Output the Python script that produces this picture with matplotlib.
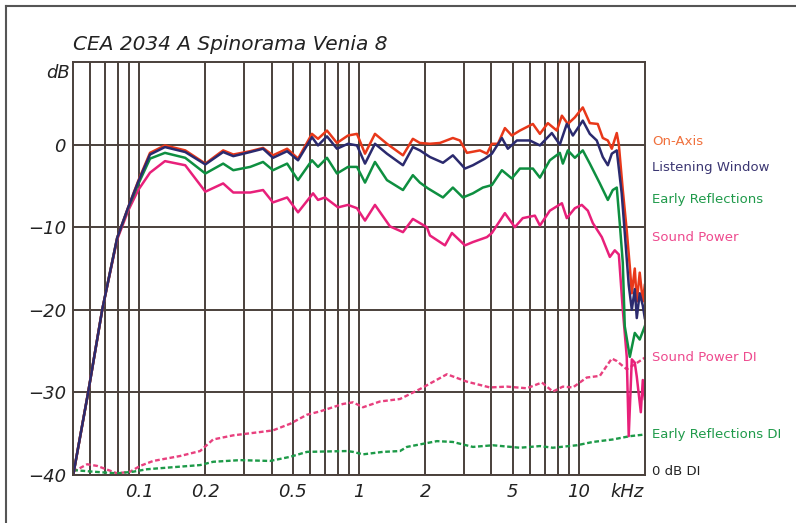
from matplotlib import pyplot as plt
from matplotlib.lines import Line2D

# ---- data (frequency in Hz, level in dB) ----
oa_f = [50.1, 58.6, 67.9, 79.4, 89.1, 99, 112, 131, 162, 200, 241, 268, 320, 366, 406, 471, 528, 611,
        651, 715, 794, 891, 979, 1065, 1182, 1340, 1585, 1758, 1892, 2102, 2334, 2673, 2877, 3097, 3548,
        3819, 4023, 4285, 4610, 4955, 5395, 6180, 6653, 7228, 7943, 8375, 8913, 9594, 10425, 11220,
        12190, 12853, 13552, 14125, 14880, 15205, 15849, 16520, 17061, 17418, 17970, 18350, 18923,
        19545, 19953]
oa_db = [-40, -30, -20, -11.3, -7.6, -4.4, -1.0, -0.1, -0.7, -2.3, -0.7, -1.2, -0.8, -0.4, -1.3, -0.5,
         -1.7, 1.3, 0.7, 1.7, 0.2, 1.1, 1.3, -1.1, 1.3, 0.1, -1.3, 0.7, 0.2, 0.1, 0.2, 0.8, 0.5, -1.0,
         -0.7, -1.1, 0.1, 0.1, 2.0, 1.1, 1.7, 2.5, 1.3, 2.6, 1.7, 3.5, 2.5, 3.3, 4.5, 2.6, 2.5, 0.8,
         0.5, -0.5, 1.4, 0.0, -5.5, -10.4, -14.8, -18, -15, -19, -15.5, -19, -17]

lw_f = [50.1, 58.6, 67.9, 79.4, 89.1, 99, 112, 131, 162, 200, 241, 268, 320, 366, 406, 471, 528, 611,
        651, 715, 794, 891, 979, 1065, 1182, 1340, 1585, 1758, 1892, 2102, 2410, 2673, 3034, 3297,
        3739, 4023, 4467, 4755, 5226, 5988, 6653, 7535, 8196, 8815, 9397, 10425, 11220, 12066, 12853,
        13552, 14125, 14880, 15668, 16181, 16866, 17418, 17970, 18350, 18923, 19545, 19953]
lw_db = [-40, -30, -20, -11.3, -7.6, -4.5, -1.2, -0.3, -0.9, -2.4, -0.9, -1.4, -0.9, -0.5, -1.6, -0.8,
         -1.9, 0.9, -0.1, 1.0, -0.5, 0.1, -0.1, -2.3, 0.1, -1.1, -2.5, -0.3, -0.7, -1.5, -2.2, -1.3,
         -2.9, -2.5, -1.7, -1.1, 0.8, -0.5, 0.5, 0.5, -0.1, 1.4, 0.0, 2.5, 1.1, 2.9, 1.3, 0.5, -1.5,
         -2.5, -1.1, -0.7, -5.9, -10.7, -17, -20, -17.5, -21, -18, -19.5, -21]

er_f = [50.1, 58.6, 67.9, 79.4, 89.1, 99, 112, 131, 162, 200, 241, 268, 320, 366, 406, 471, 528, 611,
        651, 715, 794, 891, 979, 1065, 1182, 1340, 1585, 1758, 1892, 2059, 2410, 2673, 2970, 3297,
        3660, 4023, 4467, 4955, 5395, 6180, 6653, 7380, 8196, 8459, 8913, 9594, 10425, 11220, 12462,
        13552, 14269, 14880, 15351, 15849, 16181, 17061, 17970, 18923, 19953]
er_db = [-40, -30, -20, -11.3, -7.7, -4.8, -1.7, -1.0, -1.6, -3.5, -2.3, -3.1, -2.7, -2.1, -3.1, -2.3,
         -4.3, -1.9, -2.7, -1.6, -3.5, -2.7, -2.7, -4.6, -2.1, -4.3, -5.5, -3.7, -4.6, -5.3, -6.4,
         -5.2, -6.4, -5.9, -5.2, -4.9, -3.1, -4.1, -2.9, -2.9, -4.0, -1.9, -1.0, -2.3, -0.7, -1.6,
         -0.7, -2.3, -4.7, -6.7, -5.5, -5.2, -9.5, -14.3, -22, -25.7, -22.8, -23.6, -22]

sp_f = [50.1, 58.6, 67.9, 79.4, 89.1, 99, 112, 131, 162, 200, 241, 268, 320, 366, 406, 471, 528, 618,
        651, 700, 803, 891, 979, 1065, 1182, 1383, 1585, 1758, 2036, 2102, 2461, 2647, 3034, 3297,
        3819, 4023, 4610, 5117, 5559, 6310, 6653, 7380, 8375, 8815, 9594, 10318, 10990, 11578, 12723,
        13836, 14572, 15205, 15849, 16520, 16866, 17418, 17970, 18350, 19143, 19545, 19953]
sp_db = [-40, -30, -20, -11.5, -8.0, -5.5, -3.4, -2.0, -2.5, -5.7, -4.7, -5.8, -5.8, -5.5, -7.0, -6.4,
         -8.2, -5.9, -6.7, -6.4, -7.6, -7.3, -7.7, -9.2, -7.3, -9.9, -10.6, -9.0, -10.0, -11.0, -12.2,
         -10.7, -12.2, -11.8, -11.2, -10.7, -8.3, -10.0, -8.9, -8.6, -9.8, -8.0, -7.1, -8.9, -7.7,
         -7.3, -8.0, -9.5, -11.2, -13.6, -12.8, -13.3, -20, -25.7, -35.3, -26, -26.4, -28.1, -32.4,
         -28.5, -30.8]

spdi_f = [50.1, 58, 64.4, 79.4, 91, 101, 115.8, 153.6, 189.3, 216.9, 267.6, 354.8, 406, 486, 580, 665,
          845, 939, 1043, 1246, 1536, 1892, 2512, 3097, 3940, 4710, 5802, 6793, 7616, 8459, 9397,
          10864, 12462, 14125, 14880, 16520, 17970, 19953]
spdi_db = [-39.6, -38.7, -38.9, -39.8, -39.6, -38.9, -38.3, -37.7, -37.1, -35.7, -35.2, -34.8, -34.6,
           -33.8, -32.7, -32.3, -31.4, -31.2, -31.8, -31.1, -30.8, -29.6, -27.8, -28.7, -29.4, -29.3,
           -29.5, -28.8, -29.9, -29.3, -29.4, -28.2, -28.0, -25.9, -26.2, -27.2, -26.6, -25.8]

erdi_f = [50.1, 61.8, 79.4, 93.9, 108.7, 189.3, 216.9, 287.8, 394, 486, 580, 881, 939, 1043, 1285,
          1536, 1652, 2262, 2673, 3297, 4064, 5395, 6653, 7616, 9795, 11578, 14269, 17061, 19953]
erdi_db = [-39.4, -39.6, -39.8, -39.6, -39.3, -38.8, -38.4, -38.2, -38.3, -37.8, -37.2, -37.1, -37.2,
           -37.5, -37.2, -37.1, -36.6, -35.9, -36.0, -36.6, -36.4, -36.7, -36.5, -36.7, -36.4, -36.0,
           -35.7, -35.3, -35.1]

major_f = [100, 200, 500, 1000, 2000, 5000, 10000]
major_lbl = ['0.1', '0.2', '0.5', '1', '2', '5', '10']
minor_f = [60, 70, 80, 90, 300, 400, 600, 700, 800, 900, 3000, 4000, 6000, 7000, 8000, 9000]
y_ticks = [0, -10, -20, -30, -40]
y_lbl = ['0', '\u221210', '\u221220', '\u221230', '\u221240']

right_lbl = [('On-Axis', 0.4, '#f0703c'), ('Listening Window', -2.8, '#3b3672'),
             ('Early Reflections', -6.6, '#1f9a4a'), ('Sound Power', -11.2, '#ee4a8e'),
             ('Sound Power DI', -25.8, '#ee4a8e'), ('Early Reflections DI', -35.1, '#1f9a4a'),
             ('0 dB DI', -39.6, '#222222')]

gridc = '#4a403b'

fig = plt.figure(figsize=(7.96, 5.23), dpi=100)
ax = fig.add_axes([73 / 796, 48 / 523, 572 / 796, 413 / 523])
ax.set_xscale('log')
ax.set_xlim(50, 20000)
ax.set_ylim(-40, 10)

ax.set_xticks(major_f)
ax.set_xticklabels(major_lbl)
ax.set_xticks(minor_f, minor=True)
ax.set_xticklabels([], minor=True)
ax.set_yticks(y_ticks)
ax.set_yticklabels(y_lbl)
ax.tick_params(which='both', length=0)
ax.tick_params(axis='x', pad=6)
ax.tick_params(axis='y', pad=5)
for t in ax.get_xticklabels() + ax.get_yticklabels():
    t.set_fontstyle('italic')
    t.set_fontsize(13)
    t.set_color('#222222')
ax.grid(True, which='both', axis='x', color=gridc, lw=1.4)
ax.grid(True, which='major', axis='y', color=gridc, lw=1.4)
ax.set_axisbelow(True)
for s in ax.spines.values():
    s.set_color(gridc)
    s.set_linewidth(1.4)

ax.plot(spdi_f, spdi_db, color='#e8407e', lw=1.7, ls=(0, (2.0, 1.1)))
ax.plot(erdi_f, erdi_db, color='#1d9a48', lw=1.7, ls=(0, (2.0, 1.1)))
ax.plot(sp_f, sp_db, color='#e8207a', lw=1.8)
ax.plot(er_f, er_db, color='#0e8f40', lw=1.8)
ax.plot(oa_f, oa_db, color='#e8381a', lw=1.8)
ax.plot(lw_f, lw_db, color='#2b2a6e', lw=1.8)

ax.text(16500, -41.0, 'kHz', fontsize=13, style='italic', ha='center', va='top', color='#222222')
ax.text(-0.005, 8.7, 'dB', transform=ax.get_yaxis_transform(), fontsize=13, style='italic',
        ha='right', va='center', color='#222222')
ax.text(0, 1.02, 'CEA 2034 A Spinorama Venia 8', transform=ax.transAxes, fontsize=14.5,
        style='italic', ha='left', va='bottom', color='#222222')

for name, yv, col in right_lbl:
    ax.text(1.012, yv, name, transform=ax.get_yaxis_transform(), fontsize=9.5, color=col,
            ha='left', va='center', clip_on=False)

# page frame (top and left edges visible)
fig.add_artist(Line2D([6 / 796, 1.0], [1 - 6 / 523, 1 - 6 / 523], color='#555555', lw=1.5))
fig.add_artist(Line2D([6 / 796, 6 / 796], [0, 1 - 6 / 523], color='#555555', lw=1.5))

plt.savefig('out.png', dpi=100)
